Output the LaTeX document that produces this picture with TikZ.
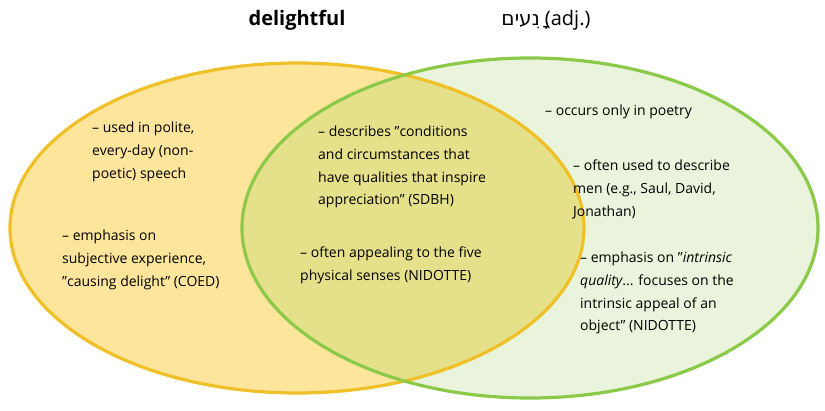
\documentclass[tikz,border=0pt]{standalone}
\usepackage{fontspec}
\setmainfont{Open Sans}
\newfontfamily\hebfont{DejaVu Sans}
\definecolor{leftfill}{RGB}{253,229,155}
\definecolor{rightfill}{RGB}{234,244,220}
\definecolor{bothfill}{RGB}{229,225,138}
\definecolor{leftline}{RGB}{240,192,40}
\definecolor{rightline}{RGB}{138,202,72}
\newcommand{\q}{\symbol{34}}
\begin{document}
\begin{tikzpicture}[x=1pt, y=-1pt]
\tikzset{
  txt/.style={anchor=north west, align=left, inner sep=0pt, font=\fontsize{14}{22.7}\selectfont},
  ttl/.style={font=\fontsize{20}{22}\selectfont},
}
\useasboundingbox (0,0) rectangle (825,411);
% circles
\fill [leftfill] (297,228) ellipse (287 and 165);
\fill [rightfill] (530,228) ellipse (288 and 170);
\begin{scope}
  \clip (297,228) ellipse (287 and 165);
  \fill [bothfill] (530,228) ellipse (288 and 170);
\end{scope}
\draw [line width=3.2, leftline] (297,228) ellipse (287 and 165);
\draw [line width=3.2, rightline] (530,228) ellipse (288 and 170);
% titles
\node [ttl] (tleft) at (297,20) {\textbf{delightful}};
\node [ttl] (tright) at (546,20) {{\hebfont נָעִים} (adj.)};
% text
\node [txt] (l1) at (92,122) {– used in polite,\\every-day (non-\\poetic) speech};
\node [txt] (l2) at (62,230) {– emphasis on\\subjective experience,\\\q causing delight\q{} (COED)};
\node [txt] (c1) at (318,126) {– describes \q conditions\\and circumstances that\\have qualities that inspire\\appreciation\q{} (SDBH)};
\node [txt] (c2) at (300,247) {– often appealing to the five\\physical senses (NIDOTTE)};
\node [txt] (r1) at (545,105) {– occurs only in poetry};
\node [txt] (r2) at (573,160) {– often used to describe\\men (e.g., Saul, David,\\Jonathan)};
\node [txt] (r3) at (580,252) {– emphasis on \q\textit{intrinsic}\\\textit{quality}... focuses on the\\intrinsic appeal of an\\object\q{} (NIDOTTE)};
\end{tikzpicture}
\end{document}
